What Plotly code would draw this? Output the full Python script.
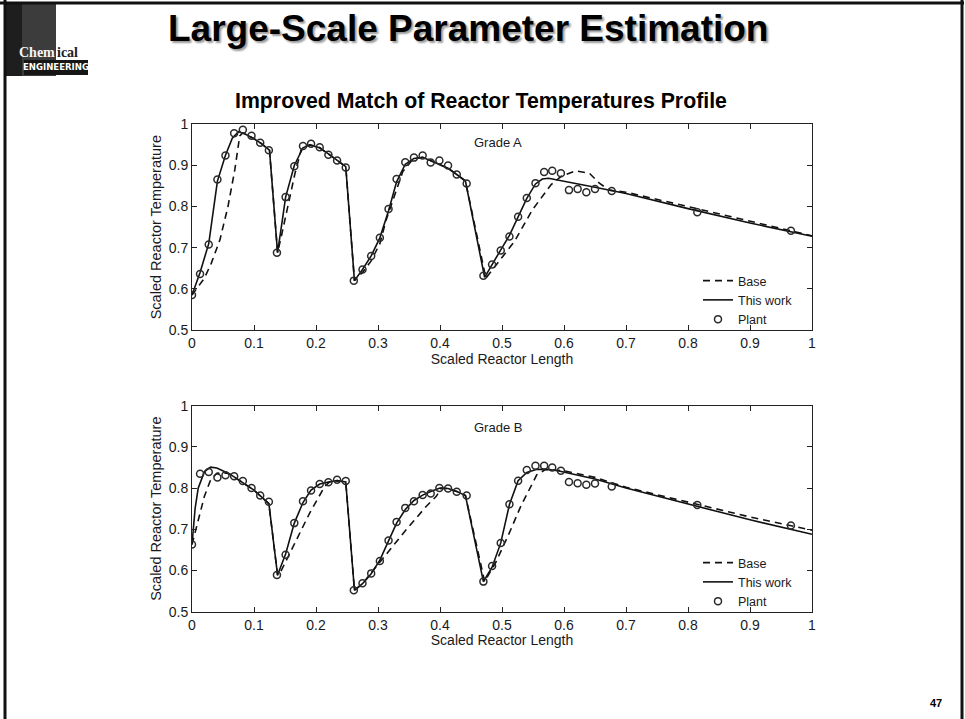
import plotly.graph_objects as go

W, H = 965, 719

# ---------------- data: Grade A ----------------
a_plant_x = [0.000, 0.013, 0.027, 0.041, 0.054, 0.068, 0.082, 0.096, 0.110, 0.124,
             0.137, 0.151, 0.165, 0.179, 0.192, 0.206, 0.220, 0.234, 0.248,
             0.261, 0.275, 0.289, 0.303, 0.317, 0.330, 0.344, 0.358, 0.372, 0.385,
             0.399, 0.413, 0.427, 0.443,
             0.470, 0.484, 0.498, 0.512, 0.526, 0.540, 0.554, 0.568, 0.581, 0.595,
             0.608, 0.622, 0.636, 0.650, 0.677, 0.815, 0.966]
a_plant_y = [0.585, 0.636, 0.708, 0.866, 0.924, 0.978, 0.987, 0.972, 0.955, 0.937,
             0.688, 0.823, 0.898, 0.947, 0.953, 0.944, 0.926, 0.912, 0.895,
             0.620, 0.647, 0.680, 0.724, 0.794, 0.867, 0.908, 0.919, 0.924, 0.907,
             0.912, 0.900, 0.878, 0.856,
             0.632, 0.659, 0.693, 0.727, 0.775, 0.821, 0.857, 0.884, 0.887, 0.881,
             0.840, 0.843, 0.835, 0.843, 0.838, 0.786, 0.741]

a_work_x = [0.000, 0.013, 0.027, 0.035, 0.041, 0.054, 0.065, 0.075, 0.085, 0.100,
            0.112, 0.125, 0.138, 0.145, 0.151, 0.165, 0.179, 0.190, 0.206, 0.220,
            0.234, 0.248, 0.262, 0.275, 0.289, 0.303, 0.317, 0.330, 0.344, 0.358,
            0.372, 0.385, 0.400, 0.413, 0.427, 0.441, 0.472, 0.485, 0.498, 0.512,
            0.526, 0.540, 0.554, 0.565, 0.575, 0.600, 0.650, 0.700, 0.800, 0.900, 1.000]
a_work_y = [0.585, 0.640, 0.710, 0.790, 0.862, 0.925, 0.966, 0.982, 0.977, 0.965,
            0.953, 0.937, 0.688, 0.760, 0.823, 0.900, 0.943, 0.950, 0.943, 0.928,
            0.912, 0.897, 0.620, 0.647, 0.680, 0.724, 0.790, 0.860, 0.903, 0.917,
            0.920, 0.912, 0.902, 0.893, 0.878, 0.862, 0.628, 0.660, 0.695, 0.730,
            0.775, 0.820, 0.855, 0.867, 0.869, 0.862, 0.847, 0.832, 0.795, 0.760, 0.728]

a_base_x = [0.000, 0.020, 0.031, 0.045, 0.058, 0.069, 0.077, 0.082, 0.100, 0.112,
            0.125, 0.138, 0.144, 0.158, 0.166, 0.176, 0.190, 0.206, 0.220, 0.234,
            0.248, 0.262, 0.275, 0.289, 0.303, 0.313, 0.327, 0.340, 0.356, 0.372,
            0.385, 0.400, 0.413, 0.427, 0.441, 0.474, 0.504, 0.520, 0.549, 0.579,
            0.595, 0.619, 0.641, 0.657, 0.673, 0.700, 0.800, 0.900, 1.000]
a_base_y = [0.585, 0.626, 0.662, 0.719, 0.800, 0.889, 0.972, 0.979, 0.965, 0.953,
            0.937, 0.688, 0.727, 0.824, 0.880, 0.938, 0.950, 0.943, 0.928, 0.912,
            0.897, 0.620, 0.640, 0.668, 0.710, 0.767, 0.830, 0.885, 0.915, 0.920,
            0.912, 0.902, 0.893, 0.878, 0.862, 0.626, 0.686, 0.715, 0.792, 0.853,
            0.873, 0.887, 0.881, 0.857, 0.840, 0.835, 0.800, 0.765, 0.729]

# ---------------- data: Grade B ----------------
b_plant_x = [0.000, 0.013, 0.027, 0.041, 0.054, 0.068, 0.082, 0.096, 0.110, 0.124,
             0.137, 0.151, 0.165, 0.179, 0.192, 0.206, 0.220, 0.234, 0.248,
             0.261, 0.275, 0.289, 0.303, 0.317, 0.330, 0.344, 0.358, 0.372, 0.385,
             0.399, 0.413, 0.427, 0.443,
             0.470, 0.484, 0.498, 0.512, 0.526, 0.540, 0.554, 0.568, 0.581, 0.595,
             0.608, 0.622, 0.636, 0.650, 0.677, 0.815, 0.966]
b_plant_y = [0.663, 0.835, 0.839, 0.826, 0.831, 0.829, 0.817, 0.800, 0.782, 0.767,
             0.589, 0.638, 0.715, 0.768, 0.794, 0.810, 0.814, 0.820, 0.817,
             0.552, 0.569, 0.593, 0.623, 0.673, 0.718, 0.752, 0.768, 0.783, 0.787,
             0.800, 0.799, 0.791, 0.782,
             0.573, 0.611, 0.667, 0.761, 0.818, 0.844, 0.854, 0.854, 0.850, 0.842,
             0.815, 0.812, 0.808, 0.811, 0.804, 0.759, 0.709]

b_work_x = [0.000, 0.005, 0.010, 0.020, 0.030, 0.040, 0.060, 0.080, 0.100, 0.124,
            0.138, 0.151, 0.165, 0.179, 0.192, 0.206, 0.220, 0.234, 0.248, 0.262,
            0.275, 0.289, 0.303, 0.317, 0.330, 0.344, 0.358, 0.372, 0.385, 0.400,
            0.413, 0.427, 0.441, 0.470, 0.484, 0.498, 0.512, 0.526, 0.540, 0.555,
            0.570, 0.590, 0.650, 0.700, 0.800, 0.900, 1.000]
b_work_y = [0.663, 0.750, 0.800, 0.840, 0.851, 0.849, 0.835, 0.815, 0.795, 0.762,
            0.589, 0.640, 0.715, 0.765, 0.795, 0.810, 0.815, 0.818, 0.815, 0.552,
            0.568, 0.592, 0.625, 0.672, 0.715, 0.748, 0.770, 0.783, 0.792, 0.800,
            0.799, 0.792, 0.782, 0.573, 0.608, 0.667, 0.760, 0.818, 0.838, 0.845,
            0.846, 0.842, 0.822, 0.800, 0.762, 0.723, 0.688]

b_base_x = [0.000, 0.010, 0.020, 0.030, 0.040, 0.050, 0.060, 0.080, 0.100, 0.124,
            0.138, 0.142, 0.168, 0.190, 0.214, 0.222, 0.234, 0.248, 0.262, 0.275,
            0.292, 0.319, 0.346, 0.378, 0.394, 0.402, 0.413, 0.427, 0.441, 0.472,
            0.490, 0.510, 0.530, 0.556, 0.570, 0.600, 0.650, 0.700, 0.800, 0.900, 1.000]
b_base_y = [0.663, 0.720, 0.780, 0.820, 0.836, 0.837, 0.835, 0.815, 0.795, 0.762,
            0.589, 0.594, 0.675, 0.740, 0.804, 0.815, 0.818, 0.815, 0.552, 0.568,
            0.600, 0.651, 0.700, 0.756, 0.780, 0.800, 0.799, 0.792, 0.782, 0.573,
            0.620, 0.685, 0.755, 0.832, 0.845, 0.842, 0.826, 0.802, 0.766, 0.730, 0.698]

x_ticks = [0, 0.1, 0.2, 0.3, 0.4, 0.5, 0.6, 0.7, 0.8, 0.9, 1]
y_ticks = [0.5, 0.6, 0.7, 0.8, 0.9, 1]

FONT = "Liberation Sans, Arial, sans-serif"
INK = "#111111"
TXT = "#1a1a1a"

fig = go.Figure()

def add_panel(px_, py_, wx, wy, bx, by, xa, ya, leg):
    fig.add_trace(go.Scatter(x=bx, y=by, mode="lines", name="Base",
                             line=dict(color=INK, width=1.6, dash="7px,5px"),
                             xaxis=xa, yaxis=ya, legend=leg))
    fig.add_trace(go.Scatter(x=wx, y=wy, mode="lines", name="This work",
                             line=dict(color=INK, width=1.6),
                             xaxis=xa, yaxis=ya, legend=leg))
    fig.add_trace(go.Scatter(x=px_, y=py_, mode="markers", name="Plant",
                             marker=dict(symbol="circle-open", size=7, color="#2a2a2a",
                                         line=dict(width=1.5, color="#2a2a2a")),
                             xaxis=xa, yaxis=ya, legend=leg))

add_panel(a_plant_x, a_plant_y, a_work_x, a_work_y, a_base_x, a_base_y, "x", "y", "legend")
add_panel(b_plant_x, b_plant_y, b_work_x, b_work_y, b_base_x, b_base_y, "x2", "y2", "legend2")

def px(x):
    return x / W

def py(y):
    return 1 - y / H

xdom = [px(192), px(812)]
top_dom = [py(330), py(124.3)]
bot_dom = [py(611.7), py(405.7)]

axis_common = dict(showgrid=False, zeroline=False, showline=True, linecolor="#222",
                   linewidth=1, mirror="allticks", ticks="inside", ticklen=5,
                   tickcolor="#222", tickfont=dict(family=FONT, size=14, color=TXT),
                   automargin=False)

def xtitle():
    return dict(text="Scaled Reactor Length", standoff=3,
                font=dict(family=FONT, size=14, color=TXT))

def ytitle():
    return dict(text="Scaled Reactor Temperature", standoff=3,
                font=dict(family=FONT, size=14.5, color=TXT))

fig.update_layout(
    xaxis=dict(domain=xdom, range=[0, 1], tickvals=x_ticks, anchor="y",
               title=xtitle(), **axis_common),
    yaxis=dict(domain=top_dom, range=[0.5, 1], tickvals=y_ticks, anchor="x",
               title=ytitle(), **axis_common),
    xaxis2=dict(domain=xdom, range=[0, 1], tickvals=x_ticks, anchor="y2",
                title=xtitle(), **axis_common),
    yaxis2=dict(domain=bot_dom, range=[0.5, 1], tickvals=y_ticks, anchor="x2",
                title=ytitle(), **axis_common),
)

leg_common = dict(font=dict(family=FONT, size=12.5, color=TXT), bgcolor="rgba(0,0,0,0)",
                  xanchor="left", yanchor="top", itemwidth=30, tracegroupgap=0)
fig.update_layout(
    legend=dict(x=px(698), y=py(266), **leg_common),
    legend2=dict(x=px(698), y=py(548), **leg_common),
)

# frame lines of the slide
shapes = [
    dict(type="line", xref="paper", yref="paper", x0=0, x1=px(964), y0=py(3), y1=py(3),
         line=dict(color="#111", width=3)),
    dict(type="line", xref="paper", yref="paper", x0=px(5), x1=px(5), y0=py(0), y1=0,
         line=dict(color="#111", width=3)),
    dict(type="line", xref="paper", yref="paper", x0=px(962), x1=px(962), y0=py(0), y1=0,
         line=dict(color="#111", width=3)),
    # logo blocks
    dict(type="rect", xref="paper", yref="paper", x0=px(5), x1=px(56), y0=py(76), y1=py(3),
         fillcolor="#3c3c3c", line=dict(width=0), layer="below"),
    dict(type="rect", xref="paper", yref="paper", x0=px(5), x1=px(22), y0=py(76), y1=py(3),
         fillcolor="#1e1e1e", line=dict(width=0), layer="below"),
    dict(type="rect", xref="paper", yref="paper", x0=px(24), x1=px(88), y0=py(75), y1=py(60),
         fillcolor="#161616", line=dict(width=0), layer="below"),
]
fig.update_layout(shapes=shapes)

LOGO_SERIF = "Liberation Serif, Times New Roman, serif"
annotations = [
    dict(text="<b>Large-Scale Parameter Estimation</b>", x=px(468), y=py(29),
         xref="paper", yref="paper", showarrow=False, xanchor="center", yanchor="middle",
         font=dict(family=FONT, size=37, color="#000", shadow="2px 2px 2px #9a9a9a")),
    dict(text="<b>Improved Match of Reactor Temperatures Profile</b>", x=px(481), y=py(101),
         xref="paper", yref="paper", showarrow=False, xanchor="center", yanchor="middle",
         font=dict(family=FONT, size=21.3, color="#000")),
    dict(text="Grade A", x=0.452, y=0.955, xref="x", yref="y", showarrow=False,
         xanchor="left", yanchor="middle", font=dict(family=FONT, size=13, color=TXT)),
    dict(text="Grade B", x=0.452, y=0.948, xref="x2", yref="y2", showarrow=False,
         xanchor="left", yanchor="middle", font=dict(family=FONT, size=13, color=TXT)),
    dict(text="<b>47</b>", x=px(936), y=py(703), xref="paper", yref="paper", showarrow=False,
         xanchor="center", yanchor="middle", font=dict(family=FONT, size=11, color="#000")),
    dict(text="<b>Chem</b>", x=px(57), y=py(53), xref="paper", yref="paper", showarrow=False,
         xanchor="right", yanchor="middle",
         font=dict(family=LOGO_SERIF, size=14, color="#f4f4f4")),
    dict(text="<b>ical</b>", x=px(55), y=py(53), xref="paper", yref="paper", showarrow=False,
         xanchor="left", yanchor="middle",
         font=dict(family=LOGO_SERIF, size=14, color="#222")),
    dict(text="<b>ENGINEERING</b>", x=px(56), y=py(67), xref="paper", yref="paper", showarrow=False,
         xanchor="center", yanchor="middle",
         font=dict(family="DejaVu Sans Condensed, DejaVu Sans, sans-serif", size=9.5,
                   color="#ffffff")),
]
fig.update_layout(annotations=annotations)

fig.update_layout(width=W, height=H, margin=dict(l=0, r=0, t=0, b=0),
                  paper_bgcolor="white", plot_bgcolor="white", showlegend=True)

fig.write_html("out.html", config={"displayModeBar": False},
               post_script="document.body.style.margin='0';document.body.style.padding='0';"
                           "document.body.style.overflow='hidden';")
